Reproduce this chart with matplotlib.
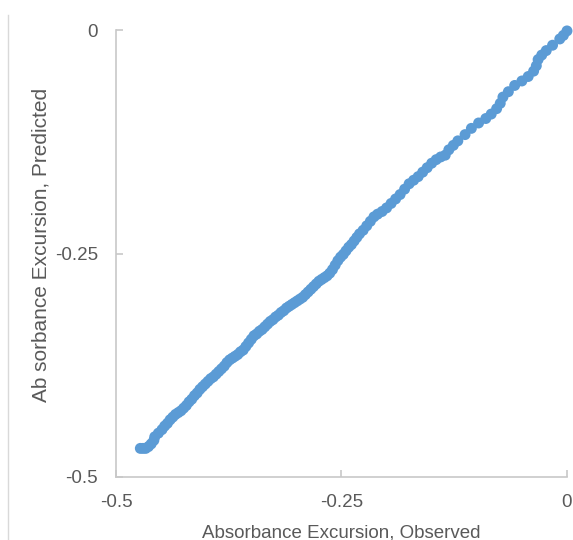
import matplotlib
matplotlib.use("Agg")
import matplotlib.pyplot as plt
from matplotlib.lines import Line2D

# observed vs predicted absorbance excursion
observed = [
    -0.473, -0.470, -0.467, -0.464, -0.461, -0.458, -0.457, -0.453, -0.449, -0.446,
    -0.443, -0.440, -0.437, -0.434, -0.431, -0.428, -0.425, -0.422, -0.419, -0.416,
    -0.413, -0.410, -0.407, -0.404, -0.401, -0.398, -0.395, -0.392, -0.389, -0.386,
    -0.383, -0.380, -0.377, -0.374, -0.371, -0.368, -0.365, -0.362, -0.359, -0.356,
    -0.353, -0.350, -0.347, -0.344, -0.341, -0.338, -0.335, -0.332, -0.329, -0.326,
    -0.323, -0.320, -0.317, -0.314, -0.311, -0.308, -0.305, -0.302, -0.299, -0.296,
    -0.293, -0.290, -0.287, -0.284, -0.281, -0.278, -0.275, -0.272, -0.269, -0.266,
    -0.263, -0.260, -0.257, -0.254, -0.251, -0.248, -0.245, -0.242, -0.239, -0.236,
    -0.233, -0.230, -0.226, -0.222, -0.218, -0.214, -0.210, -0.205, -0.200, -0.195,
    -0.190, -0.185, -0.180, -0.175, -0.170, -0.165, -0.160, -0.155, -0.150, -0.145,
    -0.140, -0.135, -0.131, -0.126, -0.121, -0.113, -0.106, -0.098, -0.090, -0.084,
    -0.078, -0.074, -0.071, -0.065, -0.058, -0.050, -0.043, -0.037, -0.034, -0.032,
    -0.028, -0.023, -0.016, -0.008, -0.004, 0.000,
]
predicted = [
    -0.468, -0.468, -0.468, -0.466, -0.463, -0.459, -0.455, -0.451, -0.447, -0.443,
    -0.440, -0.436, -0.433, -0.430, -0.428, -0.426, -0.423, -0.420, -0.416, -0.413,
    -0.409, -0.406, -0.402, -0.399, -0.396, -0.393, -0.390, -0.388, -0.385, -0.382,
    -0.379, -0.376, -0.372, -0.369, -0.367, -0.365, -0.363, -0.360, -0.358, -0.354,
    -0.350, -0.346, -0.342, -0.340, -0.337, -0.335, -0.332, -0.329, -0.326, -0.324,
    -0.321, -0.319, -0.316, -0.314, -0.311, -0.309, -0.307, -0.305, -0.303, -0.301,
    -0.299, -0.296, -0.293, -0.290, -0.287, -0.284, -0.281, -0.279, -0.277, -0.275,
    -0.272, -0.268, -0.263, -0.258, -0.254, -0.251, -0.247, -0.243, -0.240, -0.236,
    -0.232, -0.228, -0.224, -0.219, -0.214, -0.209, -0.206, -0.203, -0.199, -0.194,
    -0.189, -0.184, -0.178, -0.172, -0.168, -0.164, -0.159, -0.154, -0.149, -0.145,
    -0.142, -0.140, -0.134, -0.129, -0.124, -0.117, -0.110, -0.104, -0.099, -0.094,
    -0.088, -0.082, -0.075, -0.069, -0.062, -0.057, -0.052, -0.046, -0.040, -0.033,
    -0.028, -0.023, -0.017, -0.010, -0.006, -0.001,
]

ticks = [-0.5, -0.25, 0]
tick_labels = ["-0.5", "-0.25", "0"]

plt.rcParams['font.family'] = ['Liberation Sans', 'DejaVu Sans']
grey = "#595959"
axis_grey = "#C8C8C8"

fig = plt.figure(figsize=(5.73, 5.4), dpi=100)
ax = fig.add_axes([0.2024, 0.1167, 0.7871, 0.8277])

ax.scatter(observed, predicted, s=62, color="#5B9BD5", edgecolors="none",
           clip_on=False, zorder=3)

ax.set_xlim(-0.5, 0)
ax.set_ylim(-0.5, 0)
ax.set_xticks(ticks)
ax.set_xticklabels(tick_labels)
ax.set_yticks(ticks)
ax.set_yticklabels(tick_labels)

for s in ["top", "right"]:
    ax.spines[s].set_visible(False)
for s in ["left", "bottom"]:
    ax.spines[s].set_color(axis_grey)
    ax.spines[s].set_linewidth(1.2)

ax.tick_params(axis="both", direction="in", length=5, width=1.2,
               color=axis_grey, labelcolor=grey, labelsize=13.5)
ax.tick_params(axis="x", pad=12)
ax.tick_params(axis="y", pad=13)

ax.set_xlabel("Absorbance Excursion, Observed", fontsize=13.5, color=grey, labelpad=10)
ax.set_ylabel("Ab sorbance Excursion, Predicted", fontsize=15, color=grey)
ax.yaxis.set_label_coords(-0.145, 0.52)

# thin border on the left edge of the chart area
fig.add_artist(Line2D([8 / 573, 8 / 573], [0, 1 - 15 / 540],
                      transform=fig.transFigure, color="#D9D9D9", linewidth=1))

fig.savefig("out.png", dpi=100)
